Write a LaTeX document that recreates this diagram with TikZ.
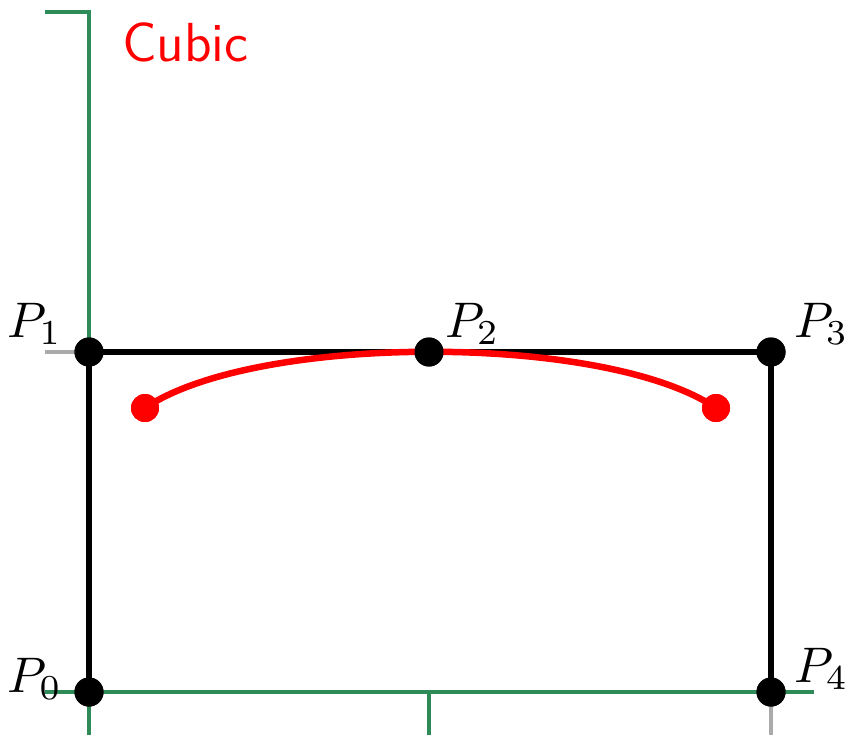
\documentclass[tikz,border=0pt]{standalone}
\begin{document}
\begin{tikzpicture}[x=0.2pt,y=-0.2pt,
  axis/.style={draw={rgb,255:red,46;green,139;blue,87},line width=0.65pt},
  tick/.style={draw={rgb,255:red,170;green,170;blue,170},line width=0.65pt},
  poly/.style={draw=black,line width=1.1pt},
  ctrl/.style={circle,fill=black,inner sep=0pt,minimum size=5.8pt},
  rdot/.style={circle,fill=red,inner sep=0pt,minimum size=5.6pt},
  plabel/.style={inner sep=0pt,font=\fontsize{10}{12}\selectfont}]
\useasboundingbox (0,0) rectangle (848,735);
% axes
\coordinate (ytop) at (89,12);
\coordinate (ytick) at (45,12);
\coordinate (ybot) at (89,735);
\coordinate (xl) at (45,692);
\coordinate (xr) at (814,692);
\coordinate (xm) at (429,692);
\coordinate (xmb) at (429,735);
\coordinate (g1a) at (45,352);
\coordinate (g1b) at (89,352);
\coordinate (g2a) at (771,692);
\coordinate (g2b) at (771,735);
\draw[axis] (ytick) -- (ytop) -- (ybot);
\draw[axis] (xl) -- (xr);
\draw[axis] (xm) -- (xmb);
\draw[tick] (g1a) -- (g1b);
\draw[tick] (g2a) -- (g2b);
% control points
\node[ctrl] (P0) at (89,692) {};
\node[ctrl] (P1) at (89,352) {};
\node[ctrl] (P2) at (429,352) {};
\node[ctrl] (P3) at (771,352) {};
\node[ctrl] (P4) at (771,692) {};
\draw[poly] (P0.center) -- (P1.center) -- (P3.center) -- (P4.center);
% red curve
\node[rdot] (A) at (145,408) {};
\node[rdot] (B) at (716,408) {};
\draw[red,line width=1.3pt] (A.center) .. controls (255,333) and (606,333) .. (B.center);
\node[rdot] at (A) {};
\node[rdot] at (B) {};
\node[ctrl] at (P2) {};
\node[ctrl] at (P1) {};
\node[ctrl] at (P3) {};
\node[ctrl] at (P0) {};
\node[ctrl] at (P4) {};
% labels
\node[plabel,anchor=base east] (L0) at (63,692) {$P_0$};
\node[plabel,anchor=base east] (L1) at (63,337) {$P_1$};
\node[plabel,anchor=base west] (L2) at (444,337) {$P_2$};
\node[plabel,anchor=base west] (L3) at (793,337) {$P_3$};
\node[plabel,anchor=base west] (L4) at (793,682) {$P_4$};
\node[inner sep=0pt,anchor=base west,text=red,font=\sffamily\fontsize{11}{13}\selectfont] (T) at (121,61) {Cubic};
\end{tikzpicture}
\end{document}
